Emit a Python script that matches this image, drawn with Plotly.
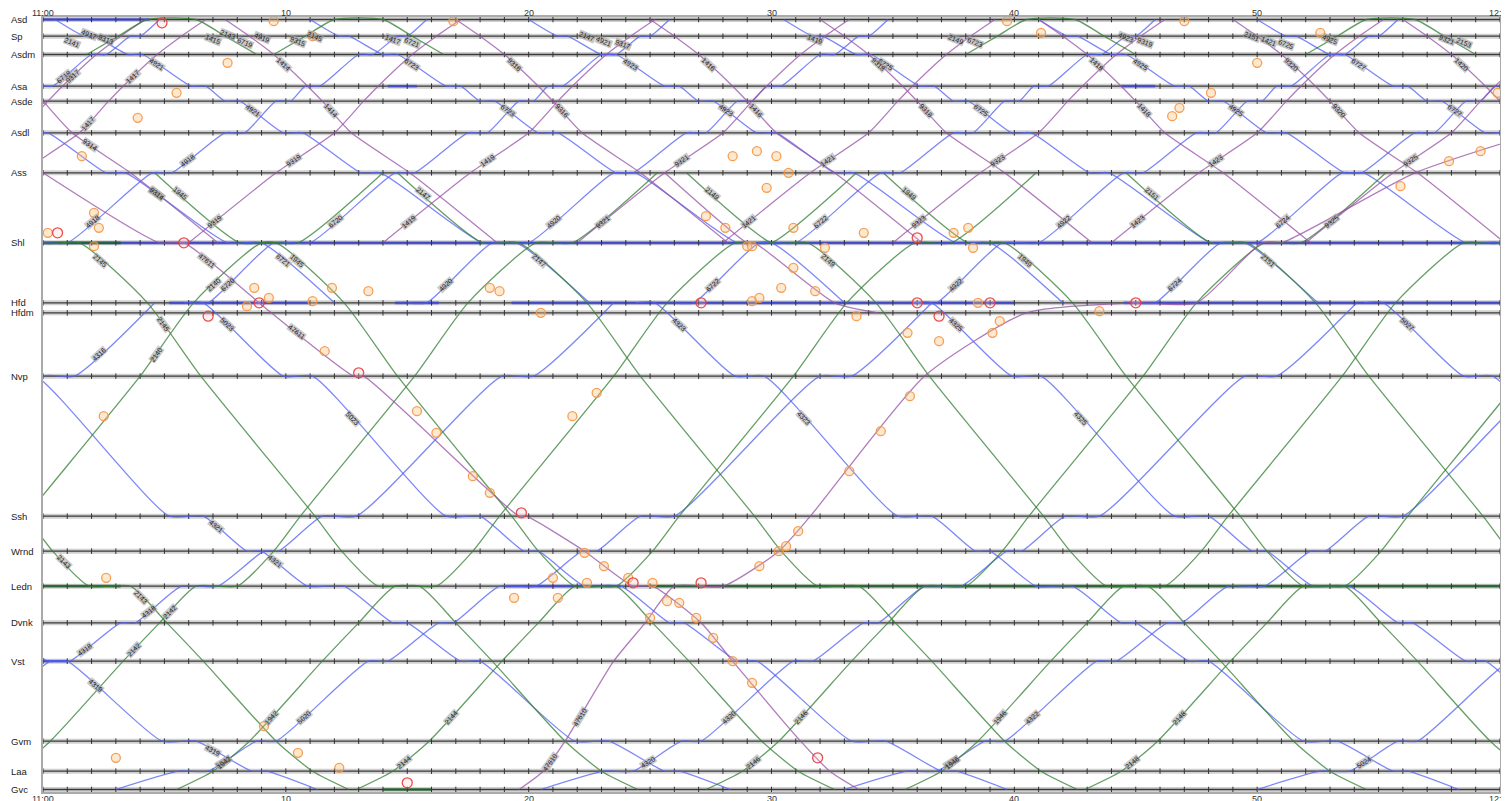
import math
import plotly.graph_objects as go

# ---------------- data ----------------
STATIONS = ["Asd", "Sp", "Asdm", "Asa", "Asde", "Asdl", "Ass", "Shl", "Hfd", "Hfdm",
            "Nvp", "Ssh", "Wrnd", "Ledn", "Dvnk", "Vst", "Gvm", "Laa", "Gvc"]
STATION_KM = [0.0, 1.0, 2.1, 4.0, 4.9, 6.8, 9.2, 13.4, 17.0, 17.6,
              21.4, 29.8, 31.9, 34.0, 36.2, 38.5, 43.3, 45.1, 46.2]
TIME_TICKS = [0, 10, 20, 30, 40, 50, 60]
TIME_TICK_TEXT = ["11:00", "10", "20", "30", "40", "50", "12:00"]
MINUTE_MARKS = list(range(0, 61))

# running-time patterns: station, arrival offset, departure offset (minutes)
SPR_S_STA = ["Hfd", "Nvp", "Ssh", "Wrnd", "Ledn", "Dvnk", "Vst", "Gvm", "Laa", "Gvc"]
SPR_S_ARR = [0.0, 4.1, 10.8, 14.0, 16.5, 20.0, 22.8, 27.5, 31.2, 33.9]
SPR_S_DEP = [0.8, 5.3, 12.2, 14.6, 18.0, 20.6, 23.6, 28.9, 31.8, 33.9]
SPR_S_START = [-22.6, -5.6, 5.8, 24.4, 35.8, 54.4]
SPR_S_NUM = ["4319", "4321", "5023", "4323", "4325", "5027"]

SPR_N_STA = ["Gvc", "Laa", "Gvm", "Vst", "Dvnk", "Ledn", "Wrnd", "Ssh", "Nvp", "Hfd"]
SPR_N_ARR = [0.0, 2.6, 5.8, 10.4, 13.3, 15.8, 19.2, 21.6, 29.0, 33.6]
SPR_N_DEP = [0.0, 3.8, 6.6, 11.2, 13.9, 17.3, 19.8, 23.0, 30.3, 33.6]
SPR_N_START = [-29.0, -10.1, 3.0, 20.5, 33.0, 50.0]
SPR_N_NUM = ["4316", "4318", "5020", "4320", "4322", "5024"]

TOP_S_STA = ["Asd", "Sp", "Asdm", "Asa", "Asde", "Asdl", "Ass", "Shl", "Hfd"]
TOP_S_ARR = [0.0, 1.2, 3.0, 5.6, 7.0, 9.4, 12.6, 17.6, 22.0]
TOP_S_DEP = [0.0, 1.6, 3.6, 6.2, 7.6, 10.2, 13.4, 19.0, 22.0]
TOP_S_START = [-10.0, 0.5, 11.0, 20.0, 30.5, 41.0, 50.0]
TOP_S_NUM = ["6721", "4921", "6723", "4923", "6725", "4925", "6727"]

TOP_N_STA = ["Hfd", "Shl", "Ass", "Asdl", "Asde", "Asa", "Asdm", "Sp", "Asd"]
TOP_N_ARR = [0.0, 3.5, 8.5, 11.5, 13.6, 14.8, 17.0, 18.6, 19.8]
TOP_N_DEP = [0.8, 5.0, 9.3, 12.3, 14.2, 15.4, 17.6, 19.0, 19.8]
TOP_N_START = [-15.0, -4.0, 6.0, 15.0, 26.0, 36.0, 45.0]
TOP_N_NUM = ["6718", "4918", "6720", "4920", "6722", "4922", "6724"]

IC_S_STA = ["Ass", "Shl", "Hfd", "Nvp", "Ssh", "Wrnd", "Ledn", "Dvnk", "Vst", "Gvm", "Laa", "Gvc"]
IC_S_ARR = [0.0, 3.5, 7.8, 10.0, 14.7, 15.8, 17.3, 20.5, 22.0, 25.0, 26.5, 28.0]
IC_S_DEP = [0.0, 5.0, 7.8, 10.0, 14.7, 15.8, 19.0, 20.5, 22.0, 25.0, 26.5, 28.0]
IC_S_START = [-15.4, -3.5, 4.6, 14.6, 26.5, 34.6, 44.6]
IC_S_NUM = ["2143", "2145", "1945", "2147", "2149", "1949", "2151"]

IC_N_STA = ["Gvc", "Laa", "Gvm", "Vst", "Dvnk", "Ledn", "Wrnd", "Ssh", "Nvp", "Hfd", "Shl", "Ass"]
IC_N_ARR = [0.0, 1.5, 3.0, 6.0, 7.5, 9.0, 12.2, 13.3, 18.0, 20.2, 23.0, 28.0]
IC_N_DEP = [0.0, 1.5, 3.0, 6.0, 7.5, 10.7, 12.2, 13.3, 18.0, 20.2, 24.5, 28.0]
IC_N_START = [-14.0, -2.7, 5.5, 12.9, 27.3, 35.5, 42.9]
IC_N_NUM = ["2140", "2142", "1942", "2144", "2146", "1946", "2148"]

IC_TOP_N_STA = ["Shl", "Ass", "Asdl", "Asde", "Asa", "Asdm", "Sp", "Asd"]
IC_TOP_N_ARR = [0.0, 3.6, 6.0, 7.2, 7.8, 9.2, 10.2, 11.2]
IC_TOP_N_DEP = [0.0, 3.6, 6.0, 7.2, 7.8, 9.2, 10.2, 11.2]
IC_TOP_N_START = [-7.0, -4.5, 6.0, 14.0, 22.0, 28.0, 35.0, 44.0, 52.0]
IC_TOP_N_NUM = ["9317", "1417", "9319", "1419", "9321", "1421", "9323", "1423", "9325"]

IC_TOP_S_STA = ["Asd", "Sp", "Asdm", "Asa", "Asde", "Asdl", "Ass", "Shl"]
IC_TOP_S_ARR = [0.0, 1.0, 2.0, 3.4, 4.0, 5.2, 7.6, 11.2]
IC_TOP_S_DEP = [0.0, 1.0, 2.0, 3.4, 4.0, 5.2, 7.6, 11.2]
IC_TOP_S_START = [-4.0, 7.5, 17.0, 25.0, 32.0, 41.0, 49.0, 56.0]
IC_TOP_S_NUM = ["9314", "1414", "9316", "1416", "9318", "1418", "9320", "1420"]

# slower train through the Shl - Hfd section
SLOW_SHL_S_STA = ["Ass", "Shl", "Hfd", "Hfdm"]
SLOW_SHL_S_ARR = [25.6, 29.0, 32.6, 34.4]
SLOW_SHL_S_DEP = [25.6, 29.3, 32.6, 34.4]

# short intercity moves into and out of Asd (green arcs at the top)
IC_ASD_STA = ["Asdm", "Sp", "Asd", "Asd", "Sp", "Asdm"]
IC_ASD_ARR = [0.0, 1.3, 2.5, 4.5, 5.7, 7.0]
IC_ASD_DEP = [0.0, 1.3, 2.5, 4.5, 5.7, 7.0]
IC_ASD_START = [1.8, 9.5, 38.0, 52.0]

SLOW_S_STA = ["Ass", "Shl", "Hfd", "Hfdm", "Nvp", "Ssh", "Wrnd", "Ledn", "Dvnk", "Vst", "Gvm", "Laa", "Gvc"]
SLOW_S_ARR = [0.0, 4.8, 8.9, 9.4, 12.8, 19.6, 22.3, 24.3, 27.1, 28.4, 31.2, 32.4, 33.6]
SLOW_S_DEP = [0.0, 5.8, 8.9, 9.4, 13.2, 19.9, 22.3, 25.1, 27.1, 28.4, 31.2, 32.4, 33.6]

SLOW_N_STA = ["Gvc", "Laa", "Gvm", "Vst", "Dvnk", "Ledn", "Wrnd", "Ssh", "Nvp", "Hfdm", "Hfd", "Shl", "Ass", "Asdl"]
SLOW_N_ARR = [19.6, 20.6, 21.5, 23.5, 24.8, 26.0, 30.3, 31.6, 36.3, 40.5, 45.0, 50.2, 56.5, 61.5]
SLOW_N_DEP = [19.6, 20.6, 21.5, 23.5, 24.8, 28.0, 30.3, 31.6, 36.3, 40.5, 47.5, 51.0, 56.5, 61.5]

# trains standing at stations: station, from, to (minutes), colour key
DWELL_STA = ["Shl", "Shl", "Hfd", "Hfd", "Hfd", "Hfd", "Ledn", "Ledn", "Ledn", "Asd", "Asa", "Asa", "Vst", "Gvc"]
DWELL_FROM = [0.0, 0.0, 5.2, 14.5, 19.3, 44.5, 0.0, 19.0, 25.0, 0.0, 14.2, 44.4, 0.0, 14.0]
DWELL_TO = [60.0, 3.2, 11.0, 16.3, 40.0, 60.0, 3.2, 23.8, 60.0, 4.4, 15.4, 45.8, 1.0, 16.0]
DWELL_COL = ["b", "g", "b", "b", "b", "b", "g", "b", "g", "b", "b", "b", "b", "g"]

# stop / timing markers (time in minutes, km)
ORANGE_T = [0.2, 1.6, 2.1, 2.3, 2.1, 3.9, 5.5, 7.6, 9.5, 11.1, 16.9, 39.7, 41.1, 47.0, 52.6,
            46.5, 46.8, 48.1, 50.0, 59.9,
            8.7, 8.4, 9.3, 11.1, 11.9, 13.4, 11.6, 15.4, 16.2, 17.7, 18.4, 20.5, 18.4, 18.8,
            21.8, 22.8, 2.5, 2.6, 3.0, 9.1, 10.5, 12.2,
            19.4, 21.0, 21.2, 22.4, 22.3, 23.1, 24.1, 25.1, 25.7, 26.2, 26.9, 27.6, 28.4, 29.2,
            29.5, 30.3, 30.6, 31.1, 25.0,
            28.4, 29.4, 30.2, 30.7, 29.8, 27.3, 28.1, 30.9, 33.8, 29.0, 29.2, 32.2, 30.9, 30.4,
            31.8, 29.2, 29.5, 33.5, 35.6, 37.5, 38.1, 38.3, 38.5, 39.1,
            33.2, 34.5, 35.7, 36.9, 39.4, 43.5, 55.9, 57.9, 59.2]
ORANGE_KM = [12.8, 8.2, 11.6, 12.5, 13.6, 5.9, 4.4, 2.6, 0.1, 1.0, 0.1, 0.1, 0.8, 0.1, 0.8,
             5.8, 5.3, 4.4, 2.6, 4.4,
             16.1, 17.2, 16.7, 16.9, 16.1, 16.3, 19.9, 23.5, 24.8, 27.4, 28.4, 17.6, 16.1, 16.3,
             23.8, 22.4, 23.8, 33.5, 44.3, 42.4, 44.0, 44.9,
             34.7, 33.5, 34.7, 33.8, 32.0, 32.8, 33.5, 33.8, 34.9, 35.0, 35.9, 37.1, 38.5, 39.8,
             32.8, 31.9, 31.6, 30.7, 35.9,
             8.2, 7.9, 8.2, 9.2, 10.1, 11.8, 12.5, 12.5, 12.8, 13.6, 13.6, 13.7, 14.9, 16.1,
             16.3, 16.9, 16.7, 17.8, 18.8, 12.8, 12.5, 13.7, 17.0, 18.8,
             27.1, 24.7, 22.6, 19.3, 18.1, 17.5, 10.0, 8.5, 7.9]
RED_T = [0.6, 4.9, 5.8, 8.9, 6.8, 13.0, 19.7, 24.3, 27.1, 31.9, 15.0, 36.0, 36.0, 36.9, 39.0, 27.1, 45.0]
RED_KM = [12.8, 0.2, 13.4, 17.0, 17.8, 21.2, 29.6, 33.8, 33.8, 44.3, 45.8, 13.1, 17.0, 17.8, 17.0, 17.0, 17.0]

# clusters of train-number tags near Sp (time, km, text)
TAG_T = [1.2, 1.9, 2.6, 7.0, 7.6, 8.3, 9.0, 10.5, 11.2, 14.4, 15.2, 22.4, 23.1, 23.9,
         31.8, 37.6, 38.4, 44.6, 45.4, 49.8, 50.5, 51.2, 53.0, 57.8, 58.5]
TAG_KM = [1.4, 0.9, 1.2, 1.2, 0.9, 1.4, 1.1, 1.3, 1.0, 1.2, 1.4, 1.0, 1.3, 1.5,
          1.2, 1.2, 1.4, 1.1, 1.4, 1.0, 1.3, 1.5, 1.2, 1.2, 1.4]
TAG_TEXT = ["2141", "4917", "9313", "1415", "2143", "6719", "4919", "9315", "2145", "1417",
            "6721", "2147", "4921", "9317", "1419", "2149", "6723", "4923", "9319", "2151",
            "1421", "6725", "4925", "9321", "2153"]

# ---------------- figure ----------------
KM = dict(zip(STATIONS, STATION_KM))
BLUE = "rgba(80,95,245,0.75)"
GREEN = "rgba(50,125,50,0.75)"
PURPLE = "rgba(150,80,165,0.75)"
DWELL_COLORS = {"b": "rgba(60,70,220,0.8)", "g": "rgba(30,100,40,0.8)"}
FONT = "Liberation Sans, Arial, sans-serif"
X0, X1 = 0.0, 60.0
Y0, Y1 = 46.35, -0.15
# the page body adds an 8 px offset; margins are chosen so the plot lands at x 43..1500
M_L, M_R, M_T, M_B = 35, 17, 8.5, 17.4
PLOT_W, PLOT_H = 1509 - M_L - M_R, 801 - M_T - M_B
PX_PER_MIN = PLOT_W / (X1 - X0)
PX_PER_KM = PLOT_H / (Y0 - Y1)

fig = go.Figure()

# station lines
for s, km in zip(STATIONS, STATION_KM):
    fig.add_trace(go.Scatter(x=[X0, X1], y=[km, km], mode="lines",
                             line=dict(color="rgba(150,150,150,0.45)", width=5),
                             hoverinfo="skip", showlegend=False))
    fig.add_trace(go.Scatter(x=[X0, X1], y=[km, km], mode="lines",
                             line=dict(color="#3a3a3a", width=1.4),
                             hoverinfo="skip", showlegend=False))

# standing trains
for s, a, b, c in zip(DWELL_STA, DWELL_FROM, DWELL_TO, DWELL_COL):
    fig.add_trace(go.Scatter(x=[a, b], y=[KM[s], KM[s]], mode="lines",
                             line=dict(color=DWELL_COLORS[c], width=2.6),
                             hoverinfo="skip", showlegend=False))

# minute ticks on every station line
tx, ty = [], []
for km in STATION_KM:
    for m in MINUTE_MARKS:
        tx.append(m)
        ty.append(km)
fig.add_trace(go.Scatter(x=tx, y=ty, mode="markers",
                         marker=dict(symbol="line-ns", size=4, line=dict(width=1, color="#333")),
                         hoverinfo="skip", showlegend=False))

labels = []


def add_path(stas, arrs, deps, start, color, num=None, nlab=2):
    xs, ys = [], []
    for s, a, d in zip(stas, arrs, deps):
        xs.append(start + a)
        ys.append(KM[s])
        if d > a:
            xs.append(start + d)
            ys.append(KM[s])
    fig.add_trace(go.Scatter(x=xs, y=ys, mode="lines",
                             line=dict(color=color, width=1.3, shape="spline", smoothing=0.6),
                             hoverinfo="skip", showlegend=False))
    if num is None:
        return
    # labels on the first visible running segments
    done = 0
    for i in range(len(stas) - 1):
        t0 = start + deps[i]
        t1 = start + arrs[i + 1]
        if t0 >= 0.3 and t1 <= 59.7 and abs(KM[stas[i + 1]] - KM[stas[i]]) > 1.5:
            k0, k1 = KM[stas[i]], KM[stas[i + 1]]
            ang = math.degrees(math.atan2((k1 - k0) * PX_PER_KM, (t1 - t0) * PX_PER_MIN))
            labels.append((t0 + 0.3 * (t1 - t0), k0 + 0.3 * (k1 - k0), num, ang))
            done += 1
            if done >= nlab:
                break


for st, n in zip(SPR_S_START, SPR_S_NUM):
    add_path(SPR_S_STA, SPR_S_ARR, SPR_S_DEP, st, BLUE, n)
for st, n in zip(SPR_N_START, SPR_N_NUM):
    add_path(SPR_N_STA, SPR_N_ARR, SPR_N_DEP, st, BLUE, n)
for st, n in zip(TOP_S_START, TOP_S_NUM):
    add_path(TOP_S_STA, TOP_S_ARR, TOP_S_DEP, st, BLUE, n)
for st, n in zip(TOP_N_START, TOP_N_NUM):
    add_path(TOP_N_STA, TOP_N_ARR, TOP_N_DEP, st, BLUE, n)
for st, n in zip(IC_S_START, IC_S_NUM):
    add_path(IC_S_STA, IC_S_ARR, IC_S_DEP, st, GREEN, n)
for st, n in zip(IC_N_START, IC_N_NUM):
    add_path(IC_N_STA, IC_N_ARR, IC_N_DEP, st, GREEN, n)
for st, n in zip(IC_TOP_N_START, IC_TOP_N_NUM):
    add_path(IC_TOP_N_STA, IC_TOP_N_ARR, IC_TOP_N_DEP, st, PURPLE, n)
for st, n in zip(IC_TOP_S_START, IC_TOP_S_NUM):
    add_path(IC_TOP_S_STA, IC_TOP_S_ARR, IC_TOP_S_DEP, st, PURPLE, n)
for st in IC_ASD_START:
    add_path(IC_ASD_STA, IC_ASD_ARR, IC_ASD_DEP, st, GREEN)
add_path(SLOW_SHL_S_STA, SLOW_SHL_S_ARR, SLOW_SHL_S_DEP, 0.0, PURPLE)
add_path(SLOW_S_STA, SLOW_S_ARR, SLOW_S_DEP, 0.0, PURPLE, "47611")
add_path(SLOW_N_STA, SLOW_N_ARR, SLOW_N_DEP, 0.0, PURPLE, "47610")

fig.add_trace(go.Scatter(x=ORANGE_T, y=ORANGE_KM, mode="markers",
                         marker=dict(symbol="circle", size=9, color="rgba(250,190,120,0.35)",
                                     line=dict(color="rgba(245,150,70,0.9)", width=1.3)),
                         hoverinfo="skip", showlegend=False))
fig.add_trace(go.Scatter(x=RED_T, y=RED_KM, mode="markers",
                         marker=dict(symbol="circle", size=10, color="rgba(255,200,200,0.25)",
                                     line=dict(color="rgba(230,60,60,0.9)", width=1.3)),
                         hoverinfo="skip", showlegend=False))

for (lx, ly, txt, ang) in labels:
    fig.add_annotation(x=lx, y=ly, xref="x", yref="y", text=txt, showarrow=False,
                       textangle=ang, bgcolor="rgba(170,170,170,0.6)", borderpad=0,
                       font=dict(family=FONT, size=7, color="#222"))
for lx, ly, txt in zip(TAG_T, TAG_KM, TAG_TEXT):
    fig.add_annotation(x=lx, y=ly, xref="x", yref="y", text=txt, showarrow=False,
                       textangle=22, bgcolor="rgba(160,160,160,0.6)", borderpad=0,
                       font=dict(family=FONT, size=7, color="#222"))

# station labels on the left
for s, km in zip(STATIONS, STATION_KM):
    fig.add_annotation(x=-(M_L - 0.5) / PLOT_W, xref="paper", y=km, yref="y", text=s,
                       showarrow=False, xanchor="left", yanchor="middle",
                       font=dict(family=FONT, size=9.5, color="#222"))

# time labels above and below the plot
for tv, tt in zip(TIME_TICKS, TIME_TICK_TEXT):
    for ypos in (1 + 4.5 / PLOT_H, -(2.6 + 4.5) / PLOT_H):
        fig.add_annotation(x=tv, xref="x", y=ypos, yref="paper", text=tt, showarrow=False,
                           xanchor="center", yanchor="middle",
                           font=dict(family=FONT, size=9, color="#333"))

fig.update_layout(
    width=1509, height=801,
    margin=dict(l=M_L, r=M_R, t=M_T, b=M_B, autoexpand=False),
    paper_bgcolor="white", plot_bgcolor="white",
    xaxis=dict(range=[X0, X1], showticklabels=False, showgrid=False, zeroline=False,
               ticks="", showline=True, linecolor="#aaaaaa", linewidth=2, mirror=True,
               automargin=False),
    yaxis=dict(range=[Y0, Y1], showticklabels=False, showgrid=False, zeroline=False,
               ticks="", showline=True, linecolor="#aaaaaa", linewidth=2, mirror=True,
               automargin=False),
    showlegend=False,
)
fig.write_html("out.html")
